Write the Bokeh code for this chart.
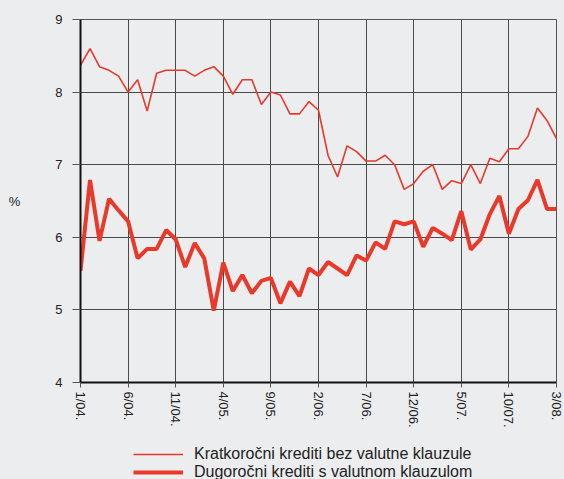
from bokeh.plotting import figure
from bokeh.layouts import column
from bokeh.models import Legend, LegendItem, FixedTicker
from bokeh.embed import file_html
from bokeh.resources import INLINE

# monthly observations, 1/04. .. 3/08.
months = [f"{(i % 12) + 1}/{4 + i // 12:02d}." for i in range(51)]
tick_labels = ["1/04.", "6/04.", "11/04.", "4/05.", "9/05.", "2/06.", "7/06.",
               "12/06.", "5/07.", "10/07.", "3/08."]
y_ticks = [4, 5, 6, 7, 8, 9]

short_term = [8.37, 8.60, 8.35, 8.30, 8.22, 8.00, 8.17, 7.74, 8.26, 8.30,
              8.30, 8.30, 8.22, 8.30, 8.35, 8.22, 7.97, 8.17, 8.17, 7.83,
              8.00, 7.96, 7.70, 7.70, 7.87, 7.75, 7.13, 6.83, 7.26, 7.18,
              7.05, 7.05, 7.13, 7.00, 6.66, 6.74, 6.91, 7.00, 6.66, 6.78,
              6.74, 7.00, 6.74, 7.09, 7.04, 7.22, 7.22, 7.39, 7.78, 7.61,
              7.36]
long_term = [5.54, 6.79, 5.95, 6.53, 6.37, 6.22, 5.71, 5.84, 5.84, 6.10,
             5.97, 5.59, 5.92, 5.71, 4.99, 5.65, 5.26, 5.48, 5.23, 5.40,
             5.44, 5.09, 5.39, 5.19, 5.57, 5.48, 5.66, 5.57, 5.48, 5.75,
             5.68, 5.93, 5.84, 6.22, 6.18, 6.22, 5.87, 6.13, 6.05, 5.96,
             6.36, 5.83, 5.97, 6.32, 6.57, 6.05, 6.39, 6.51, 6.79, 6.39,
             6.39]
series_names = ["Kratkoročni krediti bez valutne klauzule",
                "Dugoročni krediti s valutnom klauzulom"]

BG = "#ecedef"
RED = "#e8392a"
FONT = "Liberation Sans"
THIN, THICK = 1.6, 4

x = list(range(len(months)))
tick_pos = [months.index(t) for t in tick_labels]

p = figure(width=564, height=430, output_backend="svg", toolbar_location=None,
           x_range=(0, len(months) - 1), y_range=(4, 9),
           min_border_left=80, min_border_right=8, min_border_top=19,
           min_border_bottom=48)
p.background_fill_color = BG
p.border_fill_color = BG
p.outline_line_color = "#555555"
p.outline_line_width = 1

p.xaxis.ticker = FixedTicker(ticks=tick_pos)
p.xaxis.major_label_overrides = {i: t for i, t in zip(tick_pos, tick_labels)}
p.yaxis.ticker = FixedTicker(ticks=y_ticks)
p.xgrid.ticker = FixedTicker(ticks=tick_pos)
p.ygrid.ticker = FixedTicker(ticks=y_ticks)
for g in (p.xgrid, p.ygrid):
    g.grid_line_color = "#4a4a4a"
    g.grid_line_width = 1

for ax in (p.xaxis, p.yaxis):
    ax.axis_line_color = "#111111"
    ax.axis_line_width = 2
    ax.major_tick_in = 0
    ax.major_tick_line_color = "#555555"
    ax.minor_tick_line_color = None
    ax.major_label_text_font = FONT
    ax.major_label_text_font_size = "13px"
    ax.major_label_text_color = "#222222"

p.xaxis.major_tick_out = 5
p.xaxis.major_label_orientation = "vertical"
p.xaxis.major_label_standoff = 4
p.yaxis.major_tick_out = 8
p.yaxis.major_label_standoff = 10
p.yaxis.axis_label = "%"
p.yaxis.axis_label_orientation = "horizontal"
p.yaxis.axis_label_standoff = 32
p.yaxis.axis_label_text_font = FONT
p.yaxis.axis_label_text_font_size = "13px"
p.yaxis.axis_label_text_font_style = "normal"
p.yaxis.axis_label_text_color = "#222222"

p.line(x, short_term, line_color=RED, line_width=THIN)
p.line(x, long_term, line_color=RED, line_width=THICK)

# legend strip below the chart (its frame is aligned with the chart's frame)
lg = figure(width=564, height=49, output_backend="svg", toolbar_location=None,
            x_range=(0, len(months) - 1), y_range=(4, 9),
            x_axis_location=None, y_axis_location=None,
            min_border_left=80, min_border_right=8, min_border_top=0,
            min_border_bottom=0)
lg.background_fill_color = BG
lg.border_fill_color = BG
lg.outline_line_color = None
lg.xgrid.visible = False
lg.ygrid.visible = False
k1 = lg.line(x, short_term, line_color=RED, line_width=THIN, visible=False)
k2 = lg.line(x, long_term, line_color=RED, line_width=THICK, visible=False)

legend = Legend(items=[LegendItem(label=series_names[0], renderers=[k1]),
                       LegendItem(label=series_names[1], renderers=[k2])],
                location=(53, -2), orientation="vertical",
                glyph_width=50, glyph_height=18, label_height=18,
                label_standoff=11, spacing=0, padding=0, margin=0,
                border_line_alpha=0, background_fill_alpha=0,
                label_text_font=FONT, label_text_font_size="16px",
                label_text_color="#222222")
lg.add_layout(legend)

layout = column(p, lg, spacing=0)

html = file_html(layout, INLINE)
html = html.replace("</head>",
                    "<style>html, body { background: %s; }</style></head>" % BG, 1)
open("out.html", "w").write(html)
